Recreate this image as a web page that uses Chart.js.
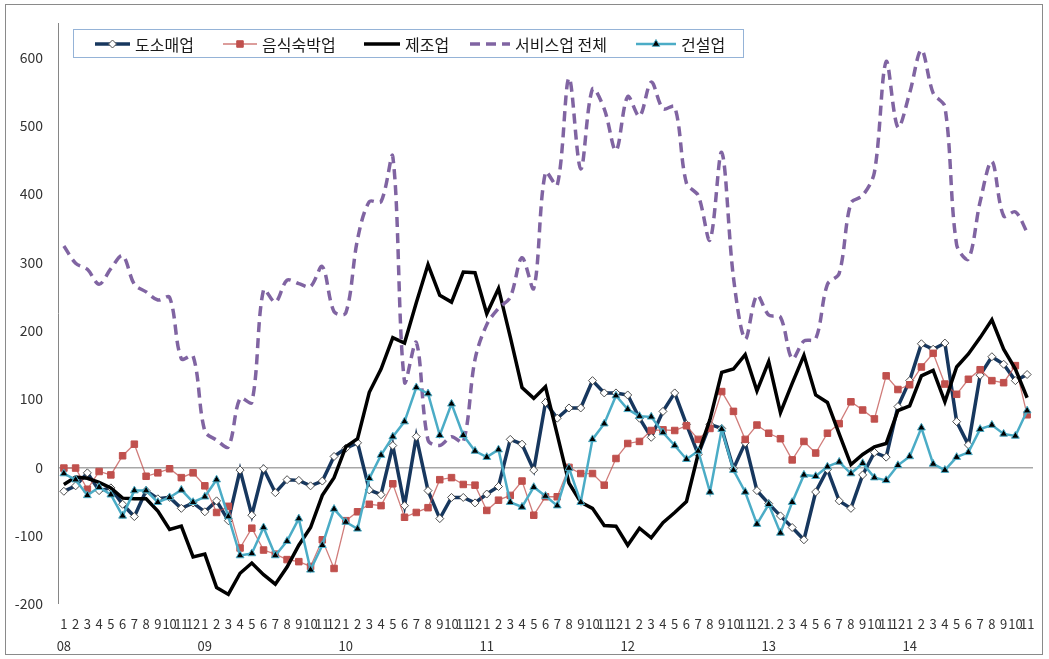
<!DOCTYPE html>
<html>
<head>
<meta charset="utf-8">
<script src="https://cdn.jsdelivr.net/npm/chart.js@4.4.1/dist/chart.umd.min.js"></script>
<style>
html,body{margin:0;padding:0;background:#fff;}
#wrap{position:relative;width:1049px;height:659px;}
</style>
</head>
<body>
<div id="wrap"><canvas id="c" width="1049" height="659"></canvas></div>
<script>
// ---- data ----
const monthLabels = [
  "1","2","3","4","5","6","7","8","9","10","11","12",
  "1","2","3","4","5","6","7","8","9","10","11","12",
  "1","2","3","4","5","6","7","8","9","10","11","12",
  "1","2","3","4","5","6","7","8","9","10","11","12",
  "1","2","3","4","5","6","7","8","9","10","11","12",
  "1.","2","3","4","5","6","7","8","9","10","11","12",
  "1","2","3","4","5","6","7","8","9","10","11"
];
const yearLabels = ["08","09","10","11","12","13","14"];
const seriesNames = ["도소매업","음식숙박업","제조업","서비스업 전체","건설업"];

const wholesaleRetail = [
  -35,-27,-8,-34,-30,-54,-72,-34,-46,-44,-60,-52,
  -65,-49,-78,-4,-70,-2,-37,-18,-19,-27,-20,16,
  28,36,-33,-40,32,-56,45,-34,-75,-44,-44,-52,
  -39,-28,41,34,-4,95,72,87,87,127,109,109,
  106,72,44,82,109,63,19,63,57,-2,36,-34,
  -53,-71,-88,-106,-36,-3,-49,-60,-11,22,15,89,
  127,181,173,182,67,33,135,162,151,127,136
];
const foodLodging = [
  -1,-1,-32,-6,-11,17,34,-13,-8,-2,-15,-8,
  -27,-66,-57,-118,-89,-121,-127,-135,-138,-145,-106,-148,
  -78,-65,-54,-56,-24,-73,-66,-59,-18,-15,-25,-26,
  -63,-48,-41,-20,-70,-43,-43,0,-9,-9,-26,13,
  35,38,54,55,54,61,41,57,111,82,41,62,
  50,42,11,38,21,50,64,96,84,71,134,114,
  121,147,167,122,107,129,143,127,124,149,77
];
const manufacturing = [
  -25,-14,-16,-22,-30,-45,-46,-46,-64,-91,-86,-131,
  -127,-176,-186,-155,-140,-157,-171,-146,-114,-88,-41,-15,
  30,42,110,144,190,182,241,297,252,242,286,285,
  225,262,191,117,101,118,48,-23,-51,-60,-85,-86,
  -114,-89,-103,-81,-66,-50,20,70,139,144,165,112,
  155,80,123,164,106,95,49,4,19,30,35,83,
  90,134,142,96,147,166,190,216,173,144,102
];
const servicesTotal = [
  324,299,290,268,291,310,268,257,245,249,159,163,
  53,40,30,101,95,260,242,274,269,265,294,228,
  226,334,389,389,455,125,183,40,32,45,37,158,
  209,233,249,307,262,432,413,570,437,554,525,464,
  543,514,564,525,528,416,398,333,461,278,188,252,
  223,220,159,185,188,268,284,387,398,432,594,498,
  548,611,548,528,326,305,389,448,368,374,344
];
const construction = [
  -9,-18,-41,-29,-40,-71,-34,-34,-51,-44,-33,-51,
  -43,-18,-72,-129,-126,-88,-129,-108,-75,-150,-114,-61,
  -80,-90,-16,18,45,67,117,108,47,93,47,24,
  15,26,-51,-58,-29,-42,-56,-1,-51,41,64,105,
  85,75,74,51,32,12,24,-36,56,-4,-36,-83,
  -54,-96,-51,-11,-13,1,8,-9,6,-15,-19,3,
  16,58,5,-4,15,22,56,62,49,46,83
];
const yTicks = [-200,-100,0,100,200,300,400,500,600];

// ---- chart ----
const FONT = "'Noto Sans CJK KR','Noto Sans',sans-serif";
const labels = monthLabels.map((m, i) => [m, i % 12 === 0 ? yearLabels[i / 12] : ""]);

const styles = [
  {color:'#17375e', width:3.5, dash:[], marker:'rectRot', r:4, fill:'#ffffff', stroke:'#505050', order:5},
  {color:'rgba(192,80,77,0.75)', width:1.3, dash:[], marker:'rect', r:4.6, fill:'#c0504d', stroke:'#c0504d', order:4},
  {color:'#000000', width:3.5, dash:[], marker:false, r:0, order:3},
  {color:'#8064a2', width:3.5, dash:[10,6], marker:false, r:0, order:2, tension:0.33},
  {color:'#4bacc6', width:2.5, dash:[], marker:'triangle', r:4.5, fill:'#000000', stroke:'#4bacc6', order:1}
];
const seriesData = [wholesaleRetail, foodLodging, manufacturing, servicesTotal, construction];

const datasets = seriesData.map((d, k) => {
  const s = styles[k];
  return {
    label: seriesNames[k],
    data: d,
    borderColor: s.color,
    borderWidth: s.width,
    borderDash: s.dash,
    tension: s.tension || 0,
    pointStyle: s.marker || 'circle',
    pointRadius: s.r,
    pointBackgroundColor: s.fill || s.color,
    pointBorderColor: s.stroke || s.color,
    pointBorderWidth: 1,
    fill: false,
    order: s.order
  };
});

const framePlugin = {
  id: 'frame',
  beforeDraw(chart) {
    const ctx = chart.ctx;
    ctx.save();
    ctx.fillStyle = '#ffffff';
    ctx.fillRect(0, 0, chart.width, chart.height);
    ctx.strokeStyle = '#8a8a8a';
    ctx.lineWidth = 1;
    ctx.strokeRect(5.5, 4.5, 1037, 650);
    ctx.restore();
  }
};

const legendItems = [
  {x1:95, x2:130, tx:135},
  {x1:223, x2:257, tx:262},
  {x1:364, x2:400, tx:405},
  {x1:470, x2:510, tx:515},
  {x1:636, x2:676, tx:681}
];
const legendPlugin = {
  id: 'customLegend',
  afterDraw(chart) {
    const ctx = chart.ctx;
    ctx.save();
    ctx.fillStyle = '#ffffff';
    ctx.fillRect(74, 30, 669, 27);
    ctx.strokeStyle = '#95b3d7';
    ctx.lineWidth = 1;
    ctx.strokeRect(73.5, 29.5, 670, 28);
    const cy = 44;
    legendItems.forEach((it, k) => {
      const s = styles[k];
      ctx.save();
      ctx.strokeStyle = s.color;
      ctx.lineWidth = s.width;
      ctx.setLineDash(s.dash);
      ctx.beginPath();
      ctx.moveTo(it.x1, cy);
      ctx.lineTo(it.x2, cy);
      ctx.stroke();
      ctx.restore();
      if (s.marker) {
        ctx.save();
        ctx.fillStyle = s.fill;
        ctx.strokeStyle = s.stroke;
        ctx.lineWidth = 1;
        Chart.helpers.drawPoint(ctx, {pointStyle: s.marker, radius: s.r, borderWidth: 1, rotation: 0}, (it.x1 + it.x2) / 2, cy);
        ctx.restore();
      }
      ctx.fillStyle = '#1a1a1a';
      ctx.font = "16px " + FONT;
      ctx.textBaseline = 'middle';
      ctx.textAlign = 'left';
      ctx.fillText(seriesNames[k], it.tx, cy + 1);
    });
    ctx.restore();
  }
};

new Chart(document.getElementById('c'), {
  type: 'line',
  data: { labels: labels, datasets: datasets },
  options: {
    responsive: false,
    animation: false,
    events: [],
    layout: { padding: { left: 0, top: 21, right: 16, bottom: 0 } },
    plugins: { legend: { display: false }, tooltip: { enabled: false } },
    scales: {
      x: {
        type: 'category',
        offset: true,
        grid: { display: false, drawTicks: false },
        border: { display: false },
        ticks: {
          autoSkip: false, maxRotation: 0, minRotation: 0, padding: 9,
          color: '#333333',
          font: { family: FONT, size: 13, lineHeight: 1.7 }
        },
        afterFit(s) { s.height = 55; }
      },
      y: {
        min: -200, max: 650,
        afterBuildTicks(s) { s.ticks = yTicks.map(v => ({ value: v })); },
        grid: {
          drawTicks: false,
          color: c => (c.tick && c.tick.value === 0) ? '#a8a8a8' : 'rgba(0,0,0,0)',
          lineWidth: c => (c.tick && c.tick.value === 0) ? 1.5 : 0
        },
        border: { display: true, color: '#868686', width: 1 },
        ticks: { padding: 15, color: '#333333', font: { family: FONT, size: 14 } },
        afterFit(s) { s.width = 58; }
      }
    }
  },
  plugins: [framePlugin, legendPlugin]
});
</script>
</body>
</html>
